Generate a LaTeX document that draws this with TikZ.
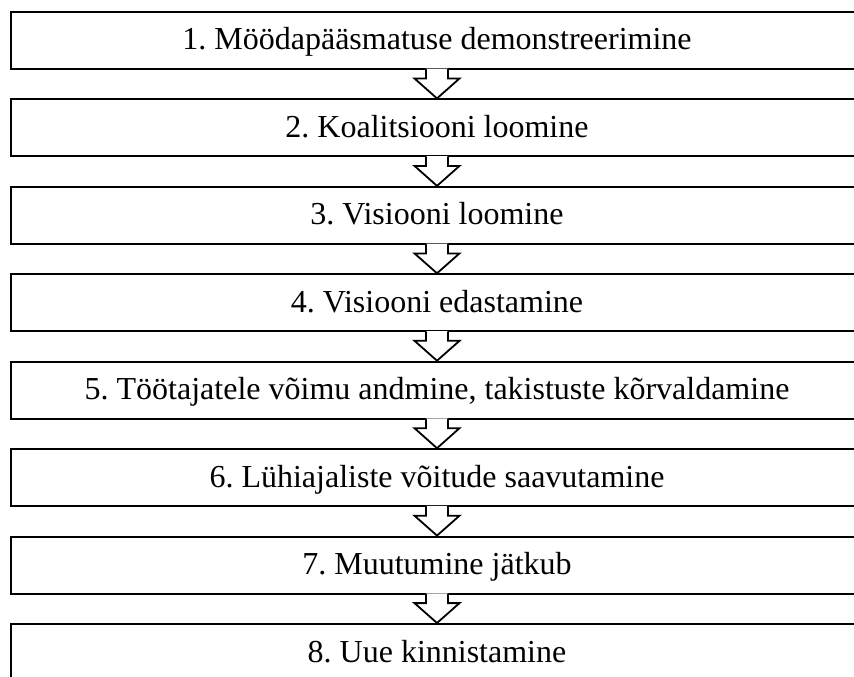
\documentclass[tikz,border=0pt]{standalone}
\usepackage{fontspec}
\setmainfont{Liberation Serif}
\usetikzlibrary{calc}
\frenchspacing
\begin{document}
\begin{tikzpicture}[x=1pt,y=-1pt,
  stepbox/.style={draw, line width=2pt, fill=white, minimum width=852pt, minimum height=57pt,
    inner sep=0pt, text height=25pt, text depth=6pt, font=\fontsize{32}{38}\selectfont},
  blockarrow/.style={line width=1.8pt, line join=miter}]
\useasboundingbox (0,0) rectangle (854,677);
\clip (0,0) rectangle (854,677);
\node[stepbox] (b1) at (437,40.5) {1. Möödapääsmatuse demonstreerimine};
\node[stepbox] (b2) at (437,127.9) {2. Koalitsiooni loomine};
\node[stepbox] (b3) at (437,215.4) {3. Visiooni loomine};
\node[stepbox] (b4) at (437,302.8) {4. Visiooni edastamine};
\node[stepbox] (b5) at (437,390.2) {5. Töötajatele võimu andmine, takistuste kõrvaldamine};
\node[stepbox] (b6) at (437,477.7) {6. Lühiajaliste võitude saavutamine};
\node[stepbox] (b7) at (437,565.1) {7. Muutumine jätkub};
\node[stepbox] (b8) at (437,652.5) {8. Uue kinnistamine};
\foreach \a/\b in {b1/b2,b2/b3,b3/b4,b4/b5,b5/b6,b6/b7,b7/b8}{
  \fill[white] ($(\a.south)+(-11,-1.3)$) -- ($(\a.south)+(-11,8.5)$) -- ($(\a.south)+(-22.5,8.5)$)
     -- (\b.north) -- ($(\a.south)+(22.5,8.5)$) -- ($(\a.south)+(11,8.5)$) -- ($(\a.south)+(11,-1.3)$) -- cycle;
  \draw[blockarrow] ($(\a.south)+(-11,-1)$) -- ($(\a.south)+(-11,8.5)$) -- ($(\a.south)+(-22.5,8.5)$)
     -- (\b.north) -- ($(\a.south)+(22.5,8.5)$) -- ($(\a.south)+(11,8.5)$) -- ($(\a.south)+(11,-1)$);
}
\end{tikzpicture}
\end{document}
